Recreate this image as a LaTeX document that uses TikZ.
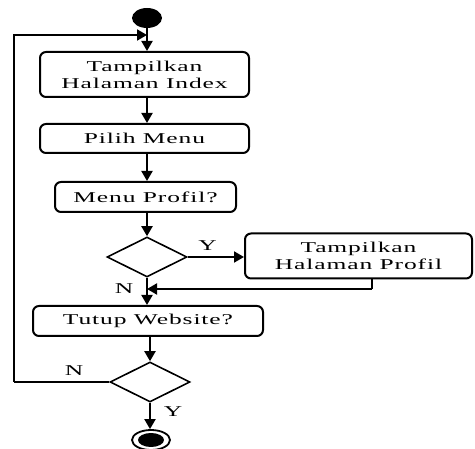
\documentclass[tikz,border=0pt]{standalone}
\usepackage{fontspec}
\setmainfont[FakeStretch=1.7,LetterSpace=6]{Liberation Serif}
\usetikzlibrary{shapes.geometric,arrows.meta}
\begin{document}
\begin{tikzpicture}[x=1pt,y=-1pt,
  box/.style={draw,line width=2pt,rounded corners=6pt,inner sep=0pt,align=center,
    font=\fontsize{15}{17}\selectfont},
  dec/.style={draw,diamond,line width=1.6pt,inner sep=0pt,minimum width=80pt,minimum height=40pt},
  flow/.style={line width=2pt,-{Triangle[length=10pt,width=11pt]}},
  plain/.style={line width=2pt},
  lbl/.style={font=\fontsize{15}{17}\selectfont,inner sep=0pt}]
\useasboundingbox (0,0) rectangle (475,449);
\node[ellipse,fill=black,minimum width=30pt,minimum height=20pt,inner sep=0pt] (start) at (147,18) {};
\node[box,minimum width=209pt,minimum height=45pt] (b1) at (144.5,74.5) {Tampilkan\\Halaman Index};
\node[box,minimum width=209pt,minimum height=29pt] (b2) at (144.5,138.5) {Pilih Menu};
\node[box,minimum width=181pt,minimum height=30pt] (b3) at (145.5,197) {Menu Profil?};
\node[dec] (d1) at (147,257) {};
\node[box,minimum width=227pt,minimum height=45pt] (b4) at (358.5,256) {Tampilkan\\Halaman Profil};
\node[box,minimum width=230pt,minimum height=30pt] (b5) at (148,321) {Tutup Website?};
\node[dec] (d2) at (150,382) {};
\node[ellipse,draw,line width=1.8pt,minimum width=38pt,minimum height=20pt,inner sep=0pt] (endo) at (151,440) {};
\node[ellipse,fill=black,minimum width=26pt,minimum height=14pt,inner sep=0pt] (endi) at (151,440) {};
\coordinate (j0) at (147,35);
\coordinate (l1) at (14,35);
\coordinate (l2) at (14,382);
\coordinate (r1) at (372,289);
\coordinate (j1) at (147,289);
% connectors
\draw[flow] (start.south) -- (start.south |- b1.north);
\draw[flow] (l2) -- (l1) -- (j0);
\draw[plain] (d2.west) -- (l2);
\draw[flow] (b1.south -| start) -- (b2.north -| start);
\draw[flow] (b2.south -| start) -- (b3.north -| start);
\draw[flow] (b3.south -| start) -- (d1.north);
\draw[flow] (d1.east) -- (d1.east -| b4.west) node[lbl,pos=0.35,above=5pt] {Y};
\draw[plain] (b4.south -| r1) -- (r1);
\draw[flow] (r1) -- (j1);
\draw[flow] (d1.south) -- (b5.north -| d1);
\node[lbl] (n1) at (124,289) {N};
\draw[flow] (b5.south -| d2) -- (d2.north);
\node[lbl] (n2) at (74,371) {N};
\draw[flow] (d2.south) -- (endo.north -| d2);
\node[lbl] (y2) at (173,412) {Y};
\end{tikzpicture}
\end{document}
